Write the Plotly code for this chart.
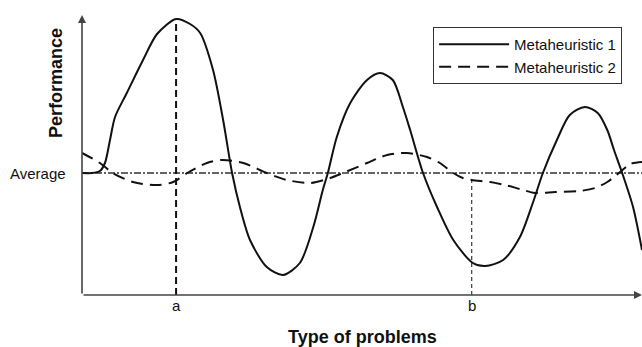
"""
Metaheuristic performance across problem types (no-free-lunch style sketch).
"""

import plotly.graph_objects as go


# ──────────────────────────────────────────────────────────────────────
# Data (x: problem type, 0-100; y: performance relative to average)
# ──────────────────────────────────────────────────────────────────────
MH1_X = [0, 1.8, 3.2, 4.1, 5.0, 5.9, 8.0, 10.9, 13.4, 16.8, 19.3, 21.1, 23.4,
         25.2, 26.8, 28.2, 30.0, 33.0, 35.9, 38.9, 41.3, 43.0, 43.9, 45.5,
         47.9, 50.9, 53.2, 55.5, 57.3, 58.6, 60.9, 63.4, 66.3, 69.8, 72.0,
         75.2, 78.2, 80.5, 82.3, 84.8, 87.1, 89.8, 92.1, 93.8, 95.0, 96.4,
         98.4, 100]
MH1_Y = [0, 0, 0.2, 1.0, 3.3, 5.6, 8.0, 11.3, 13.9, 15.4, 14.9, 14.0, 10.3,
         5.3, 0, -3.4, -6.7, -9.4, -10.2, -9.0, -5.4, -1.7, 0, 3.6, 7.0, 9.3,
         10.0, 9.3, 6.6, 4.3, 0, -3.4, -6.7, -9.0, -9.3, -8.7, -6.4, -3.0, 0,
         3.3, 5.8, 6.6, 6.0, 4.3, 2.3, 0.1, -3.4, -7.7]

MH2_X = [0, 3.2, 5.5, 9.1, 13.4, 16.3, 18.8, 22.3, 25.0, 28.8, 33.0, 36.6,
         40.7, 44.3, 46.6, 50.9, 54.5, 58.0, 61.6, 63.9, 66.3, 68.0, 69.6,
         72.9, 75.5, 78.2, 80.9, 84.5, 88.9, 91.6, 93.8, 96.1, 97.9, 100]
MH2_Y = [2.0, 1.0, 0, -0.9, -1.2, -0.9, 0, 1.0, 1.3, 1.0, 0, -0.7, -1.0,
         -0.5, 0, 1.0, 1.8, 2.0, 1.6, 1.0, 0, -0.5, -0.7, -0.9, -1.2, -1.6,
         -2.0, -1.9, -1.8, -1.5, -0.9, 0.1, 0.9, 1.1]

AVERAGE = 0
X_RANGE = [0, 100]
Y_RANGE = [-12.2, 15.8]

# Marked problem types: (label, x, performance of the highlighted curve)
MARK_A = ("a", 16.8, 15.4)
MARK_B = ("b", 69.6, -0.7)

FONT = "Liberation Sans, Arial, sans-serif"
INK = "#111111"


fig = go.Figure()

# average reference line
fig.add_trace(go.Scatter(
    x=X_RANGE, y=[AVERAGE, AVERAGE], mode="lines",
    line=dict(color="#333333", width=1.5, dash="7px,2px,2px,2px"),
    showlegend=False, hoverinfo="skip",
))

# vertical markers at a and b
fig.add_trace(go.Scatter(
    x=[MARK_A[1], MARK_A[1]], y=[Y_RANGE[0], MARK_A[2]], mode="lines",
    line=dict(color=INK, width=2, dash="7px,4px"),
    showlegend=False, hoverinfo="skip",
))
fig.add_trace(go.Scatter(
    x=[MARK_B[1], MARK_B[1]], y=[Y_RANGE[0], MARK_B[2]], mode="lines",
    line=dict(color=INK, width=1, dash="4px,3px"),
    showlegend=False, hoverinfo="skip",
))

fig.add_trace(go.Scatter(
    x=MH1_X, y=MH1_Y, mode="lines", name="Metaheuristic 1",
    line=dict(color=INK, width=2, shape="spline", smoothing=0.8),
))
fig.add_trace(go.Scatter(
    x=MH2_X, y=MH2_Y, mode="lines", name="Metaheuristic 2",
    line=dict(color=INK, width=2, dash="12px,7px", shape="spline", smoothing=0.8),
))

# axes drawn as arrows
axis_arrow = dict(text="", showarrow=True, arrowhead=2, arrowsize=1,
                  arrowwidth=1.6, arrowcolor="#444444", standoff=0,
                  axref="x", ayref="y")
fig.add_annotation(x=X_RANGE[0], y=Y_RANGE[1], ax=X_RANGE[0], ay=Y_RANGE[0],
                   **axis_arrow)
fig.add_annotation(x=X_RANGE[1], y=Y_RANGE[0], ax=X_RANGE[0], ay=Y_RANGE[0],
                   **axis_arrow)

# text labels
for label, xv, _ in (MARK_A, MARK_B):
    fig.add_annotation(x=xv, y=Y_RANGE[0], text=label, showarrow=False,
                       yanchor="top", yshift=0, font=dict(size=15, color=INK))
fig.add_annotation(x=0, y=AVERAGE, xref="paper", text="Average",
                   showarrow=False, xanchor="right", xshift=-14,
                   font=dict(size=15, color=INK))
fig.add_annotation(x=0.5, y=0, xref="paper", yref="paper",
                   text="<b>Type of problems</b>", showarrow=False,
                   yanchor="top", yshift=-30, font=dict(size=18, color=INK))
fig.add_annotation(x=0, y=0.757, xref="paper", yref="paper",
                   text="<b>Performance</b>", showarrow=False, textangle=-90,
                   xanchor="right", yanchor="middle", xshift=-14,
                   font=dict(size=18, color=INK))

fig.update_xaxes(range=X_RANGE, visible=False)
fig.update_yaxes(range=Y_RANGE, visible=False)

fig.update_layout(
    width=642,
    height=347,
    margin=dict(l=82, r=0, t=15, b=52),
    plot_bgcolor="white",
    paper_bgcolor="white",
    font=dict(family=FONT, color=INK),
    legend=dict(
        x=0.627, y=0.957, xanchor="left", yanchor="top",
        bordercolor="#333333", borderwidth=1, bgcolor="white",
        font=dict(size=15), itemwidth=70,
    ),
)

# page body has a default 8px margin; drop it so the figure sits at 0,0
fig.write_html(
    "out.html",
    config={"displayModeBar": False},
    post_script="document.body.style.margin='0';",
)
